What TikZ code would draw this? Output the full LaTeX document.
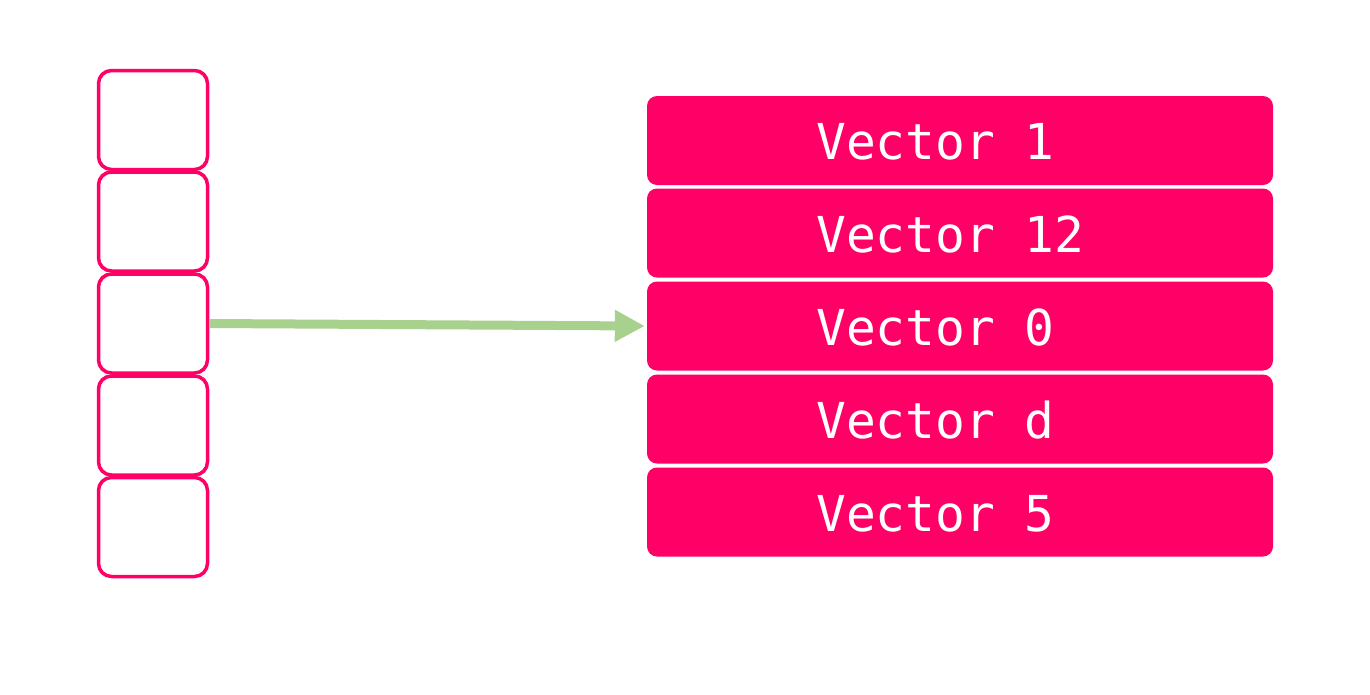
\documentclass[tikz,border=0pt]{standalone}
\usepackage{fontspec}
\newfontfamily\vecfont{DejaVu Sans Mono}
\usetikzlibrary{arrows.meta}
\definecolor{pinkred}{HTML}{FF0066}
\definecolor{arrowgreen}{HTML}{A9D18E}
\begin{document}
\begin{tikzpicture}[x=1pt,y=-1pt,
  slot/.style={draw=pinkred, line width=3.5pt, fill=white, rounded corners=13pt,
    minimum width=109pt, minimum height=99pt, inner sep=0pt},
  vec/.style={fill=pinkred, draw=none, rounded corners=10pt,
    minimum width=626pt, minimum height=89pt, inner sep=0pt},
  lbl/.style={text=white, font=\vecfont\fontsize{49.5}{49.5}\selectfont,
    inner sep=0pt, anchor=base west},
  link/.style={draw=arrowgreen, line width=9pt,
    -{Triangle[length=30pt,width=30pt]}}]
\useasboundingbox (0,0) rectangle (1370,694);
\node[slot] (b1) at (153,120) {};
\node[slot] (b2) at (153,221.5) {};
\node[slot] (b3) at (153,323.5) {};
\node[slot] (b4) at (153,425.5) {};
\node[slot] (b5) at (153,527) {};
\node[vec] (r1) at (960,140.5) {};
\node[vec] (r2) at (960,233) {};
\node[vec] (r3) at (960,326) {};
\node[vec] (r4) at (960,419) {};
\node[vec] (r5) at (960,512) {};
\node[lbl] (t1) at (816,159.5) {Vector 1};
\node[lbl] (t2) at (816,252) {Vector 12};
\node[lbl] (t3) at (816,345) {Vector 0};
\node[lbl] (t4) at (816,438) {Vector d};
\node[lbl] (t5) at (816,531) {Vector 5};
\draw[link] (b3.east) -- ([xshift=-2pt]r3.west);
\end{tikzpicture}
\end{document}
